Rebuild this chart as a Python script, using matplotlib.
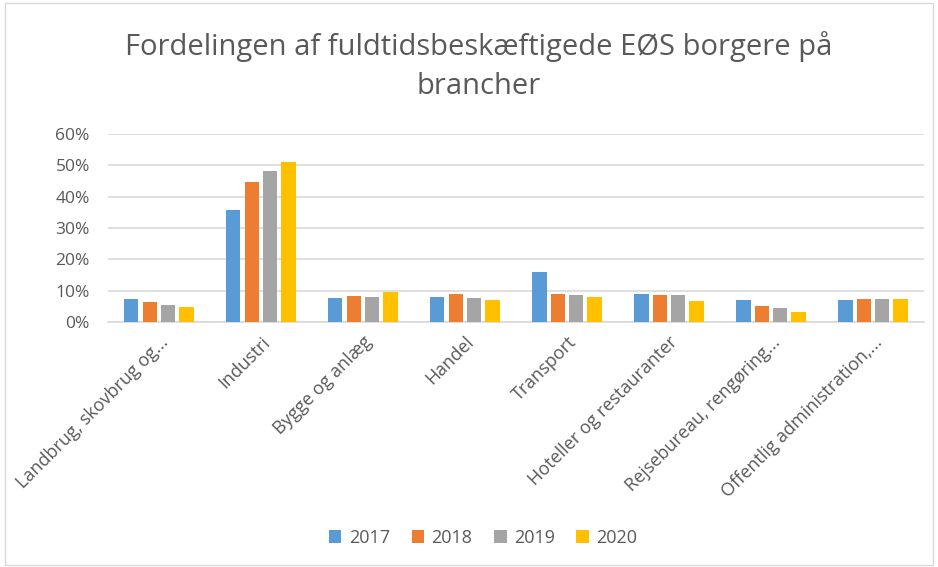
import numpy as np
import matplotlib.pyplot as plt
from matplotlib.patches import Rectangle

brancher = ["Landbrug, skovbrug og...", "Industri", "Bygge og anlæg", "Handel",
            "Transport", "Hoteller og restauranter", "Rejsebureau, rengøring...",
            "Offentlig administration,..."]
years = ["2017", "2018", "2019", "2020"]
v2017 = [7.3, 35.7, 7.6, 8.1, 15.9, 9.1, 7.0, 7.0]
v2018 = [6.3, 44.6, 8.4, 9.1, 8.8, 8.5, 5.2, 7.3]
v2019 = [5.5, 48.1, 8.1, 7.6, 8.5, 8.5, 4.5, 7.3]
v2020 = [4.8, 51.0, 9.6, 7.0, 8.1, 6.7, 3.1, 7.3]
values = [v2017, v2018, v2019, v2020]
colors = ["#5B9BD5", "#ED7D31", "#A5A5A5", "#FFC000"]

plt.rcParams['font.family'] = ['Open Sans', 'DejaVu Sans']

fig = plt.figure(figsize=(9.38, 5.67), dpi=100)
ax = fig.add_axes([0.115, 0.432, 0.87, 0.332])

x = np.arange(len(brancher))
step = 0.18
for i, (yr, vals) in enumerate(zip(years, values)):
    ax.bar(x + (i - 1.5) * step, vals, width=0.14, color=colors[i], label=yr, zorder=3)

ax.set_xlim(-0.5, len(brancher) - 0.5)
ax.set_ylim(0, 60)
ax.set_yticks(range(0, 61, 10))
ax.set_yticklabels([f"{t}%" for t in range(0, 61, 10)], color="#595959", fontsize=12.5)
ax.yaxis.grid(True, color="#D9D9D9", linewidth=1.2, zorder=0)
ax.tick_params(axis='y', length=0, pad=13)
ax.tick_params(axis='x', length=0, pad=8)
for s in ["top", "right", "left"]:
    ax.spines[s].set_visible(False)
ax.spines["bottom"].set_color("#D9D9D9")
ax.spines["bottom"].set_linewidth(1.2)

ax.set_xticks(x)
ax.set_xticklabels(brancher, rotation=45, ha="right", rotation_mode="anchor",
                   color="#595959", fontsize=13)

fig.suptitle("Fordelingen af fuldtidsbeskæftigede EØS borgere på\nbrancher",
             x=0.51, y=0.945, fontsize=21, color="#595959",
             linespacing=1.45)

ax.legend(loc="center", bbox_to_anchor=(0.515, 0.052), bbox_transform=fig.transFigure,
          ncol=4, frameon=False, fontsize=13, handlelength=0.7, handleheight=0.7,
          columnspacing=1.2, handletextpad=0.4, labelcolor="#595959")

fig.patches.append(Rectangle((0.005, 0.004), 0.99, 0.99, transform=fig.transFigure,
                             fill=False, edgecolor="#D9D9D9", linewidth=1))

fig.savefig("out.png", dpi=100)
